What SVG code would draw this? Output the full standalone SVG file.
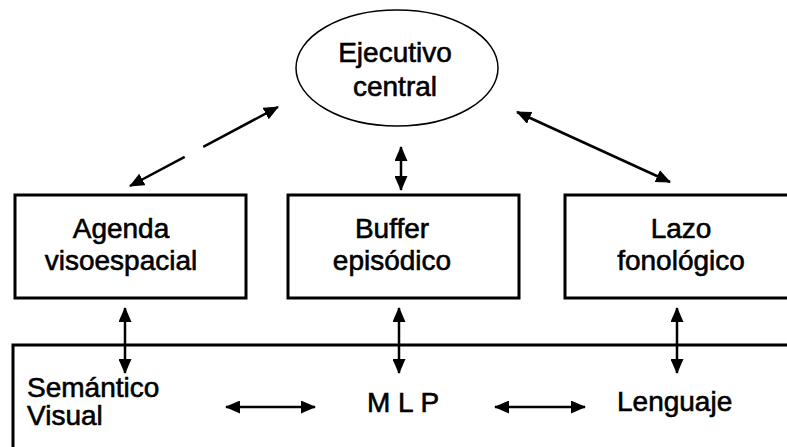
<svg xmlns="http://www.w3.org/2000/svg" width="787" height="447" viewBox="0 0 787 447">
<style>
text{font-family:"Liberation Sans",Arial,sans-serif;font-size:28px;fill:#000;stroke:#000;stroke-width:0.6}
.box{fill:#fff;stroke:#000;stroke-width:3}
.c{text-anchor:middle}
.ln{stroke:#000;stroke-width:2.5;fill:none;marker-start:url(#ah);marker-end:url(#ah)}
</style>
<defs>
<marker id="ah" viewBox="0 0 15 13" refX="14" refY="6.5" markerWidth="15" markerHeight="13" markerUnits="userSpaceOnUse" orient="auto-start-reverse">
<path d="M0,0 L15,6.5 L0,13 Z" fill="#000"/>
</marker>
</defs>
<rect width="787" height="447" fill="#fff"/>
<g id="ejecutivo">
<ellipse cx="397" cy="68" rx="101" ry="58" fill="#fff" stroke="#000" stroke-width="1.5"/>
<text class="c" x="395" y="62">Ejecutivo</text>
<text class="c" x="395" y="96">central</text>
</g>
<g id="agenda">
<rect class="box" x="15" y="195" width="231" height="103"/>
<text class="c" x="121" y="238">Agenda</text>
<text class="c" x="121" y="270">visoespacial</text>
</g>
<g id="buffer">
<rect class="box" x="288" y="195" width="231" height="103"/>
<text class="c" x="392" y="238">Buffer</text>
<text class="c" x="392" y="270">episódico</text>
</g>
<g id="lazo">
<rect class="box" x="565" y="195" width="240" height="103"/>
<text class="c" x="681" y="238">Lazo</text>
<text class="c" x="681" y="270">fonológico</text>
</g>
<g id="mlp">
<rect class="box" x="13" y="345" width="800" height="120"/>
<text x="27" y="397">Semántico</text>
<text x="27" y="425">Visual</text>
<text x="367" y="412">M L P</text>
<text x="617" y="411">Lenguaje</text>
</g>
<g id="connectors">
<line class="ln" x1="130" y1="186" x2="278" y2="107" stroke-dasharray="62 21 200"/>
<line class="ln" x1="401" y1="147" x2="401" y2="190"/>
<line class="ln" x1="517" y1="112" x2="670" y2="182"/>
<line class="ln" x1="125" y1="308" x2="125" y2="373"/>
<line class="ln" x1="399" y1="308" x2="399" y2="373"/>
<line class="ln" x1="677" y1="308" x2="677" y2="373"/>
<line class="ln" x1="226" y1="407" x2="315" y2="407"/>
<line class="ln" x1="495" y1="407" x2="585" y2="407"/>
</g>
</svg>
